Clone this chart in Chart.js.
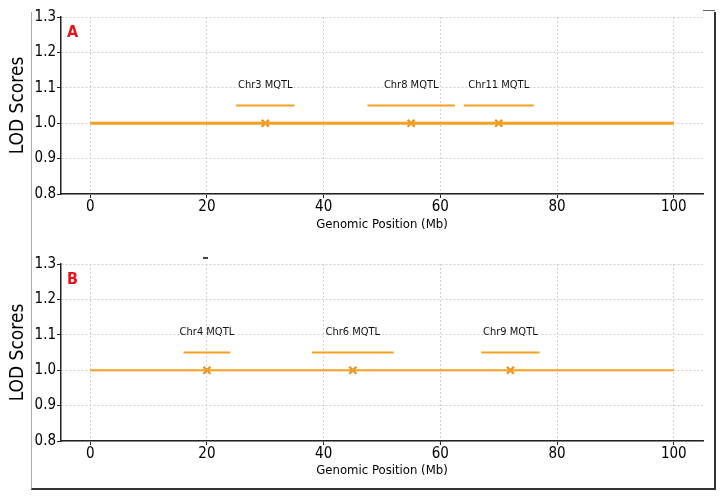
<!DOCTYPE html>
<html>
<head>
<meta charset="utf-8">
<script src="https://cdn.jsdelivr.net/npm/chart.js@4.4.1/dist/chart.umd.min.js"></script>
<style>
  body { margin: 0; background: #fff; }
  #wrap { position: relative; width: 723px; height: 499px; overflow: hidden; }
  canvas { position: absolute; left: 0; }
  #frame { position: absolute; left: 31px; top: 12px; width: 682px; height: 476px;
           border-left: 1px solid #aaa; border-right: 2px solid #333; border-bottom: 2px solid #333; }
  #stub { position: absolute; left: 703px; top: 10px; width: 12px; height: 1px; background: #666; }
  #speck { position: absolute; left: 203px; top: 257px; width: 5px; height: 2px; background: #444; }
</style>
</head>
<body>
<div id="wrap">
  <div id="frame"></div>
  <div id="stub"></div>
  <canvas id="graphA" width="723" height="245" style="top:0"></canvas>
  <canvas id="graphB" width="723" height="250" style="top:245px"></canvas>
  <div id="speck"></div>
</div>
<script>
// axis ticks
const xTicks = [0, 20, 40, 60, 80, 100];
const yTicks = [0.8, 0.9, 1.0, 1.1, 1.2, 1.3];

// baseline (genome span) at LOD 1.0
const baseX = [0, 100];
const baseY = [1.0, 1.0];

// panel A QTLs
const qtlNamesA = ['Chr3 MQTL', 'Chr8 MQTL', 'Chr11 MQTL'];
const qtlPosA = [30, 55, 70];
const qtlStartA = [25, 47.5, 64];
const qtlEndA = [35, 62.5, 76];

// panel B QTLs
const qtlNamesB = ['Chr4 MQTL', 'Chr6 MQTL', 'Chr9 MQTL'];
const qtlPosB = [20, 45, 72];
const qtlStartB = [16, 38, 67];
const qtlEndB = [24, 52, 77];

const segY = 1.05;
const labelY = 1.1;

const orange = '#f4a11f';
const tickFont = "'Liberation Sans Narrow', 'DejaVu Sans Condensed', 'Liberation Sans', sans-serif";

// draws QTL names and the panel letter
const labelPlugin = {
    id: 'qtlLabels',
    afterDatasetsDraw(chart, args, opts) {
        const c = chart.ctx;
        const xs = chart.scales.x, ys = chart.scales.y;
        c.save();
        c.font = '11px ' + tickFont;
        c.fillStyle = '#111';
        c.textAlign = 'center';
        c.textBaseline = 'middle';
        opts.names.forEach(function(n, i) {
            c.fillText(n, xs.getPixelForValue(opts.pos[i]), ys.getPixelForValue(labelY) - 3);
        });
        c.font = 'bold 16px ' + tickFont;
        c.fillStyle = '#e8141c';
        c.textAlign = 'left';
        c.fillText(opts.letter, chart.chartArea.left + 6, chart.chartArea.top + 16);
        c.restore();
    }
};

function makePanel(id, names, pos, starts, ends, letter, cfg) {
    const datasets = [{
        data: baseX.map((x, i) => ({x: x, y: baseY[i]})),
        borderColor: orange,
        borderWidth: cfg.baseWidth,
        pointRadius: 0
    }];
    names.forEach(function(n, i) {
        datasets.push({
            data: [{x: starts[i], y: segY}, {x: ends[i], y: segY}],
            borderColor: orange,
            borderWidth: 2.2,
            pointRadius: 0
        });
    });
    datasets.push({
        data: pos.map(p => ({x: p, y: 1.0})),
        showLine: false,
        pointStyle: 'crossRot',
        pointRadius: 5,
        borderColor: '#e8921a',
        borderWidth: 2.2
    });

    return new Chart(document.getElementById(id).getContext('2d'), {
        type: 'line',
        data: {datasets: datasets},
        plugins: [labelPlugin],
        options: {
            responsive: false,
            animation: false,
            layout: {padding: {top: cfg.top, right: 20, left: 0, bottom: 0}},
            plugins: {
                legend: {display: false},
                tooltip: {enabled: false},
                qtlLabels: {names: names, pos: pos, letter: letter}
            },
            scales: {
                x: {
                    type: 'linear',
                    min: -5,
                    max: 105,
                    afterBuildTicks: s => { s.ticks = xTicks.map(v => ({value: v})); },
                    afterFit: s => { s.height = cfg.xHeight; },
                    ticks: {color: '#000', font: {family: tickFont, size: 15}, padding: 0, maxRotation: 0},
                    grid: {color: '#d0d0d0', lineWidth: 1, tickLength: 4, tickColor: '#222'},
                    border: {display: true, color: '#222', width: 1.5, dash: [2, 2]},
                    title: {display: true, text: 'Genomic Position (Mb)', color: '#000',
                            font: {family: tickFont, size: 13}, padding: {top: 0, bottom: cfg.titlePad}}
                },
                y: {
                    min: 0.8,
                    max: 1.3,
                    afterBuildTicks: s => { s.ticks = yTicks.map(v => ({value: v})); },
                    afterFit: s => { s.width = 61; },
                    ticks: {color: '#000', font: {family: tickFont, size: 15}, padding: 1,
                            callback: v => v.toFixed(1)},
                    grid: {color: '#d0d0d0', lineWidth: 1, tickLength: 4, tickColor: '#222'},
                    border: {display: true, color: '#222', width: 1.5, dash: [2, 2]},
                    title: {display: true, text: 'LOD Scores', color: '#000',
                            font: {family: tickFont, size: 19}, padding: {top: 7, bottom: 0}}
                }
            }
        }
    });
}

const chartA = makePanel('graphA', qtlNamesA, qtlPosA, qtlStartA, qtlEndA, 'A',
    {top: 17, xHeight: 51, titlePad: 13, baseWidth: 3});
const chartB = makePanel('graphB', qtlNamesB, qtlPosB, qtlStartB, qtlEndB, 'B',
    {top: 19, xHeight: 54, titlePad: 17, baseWidth: 2});
</script>
</body>
</html>
